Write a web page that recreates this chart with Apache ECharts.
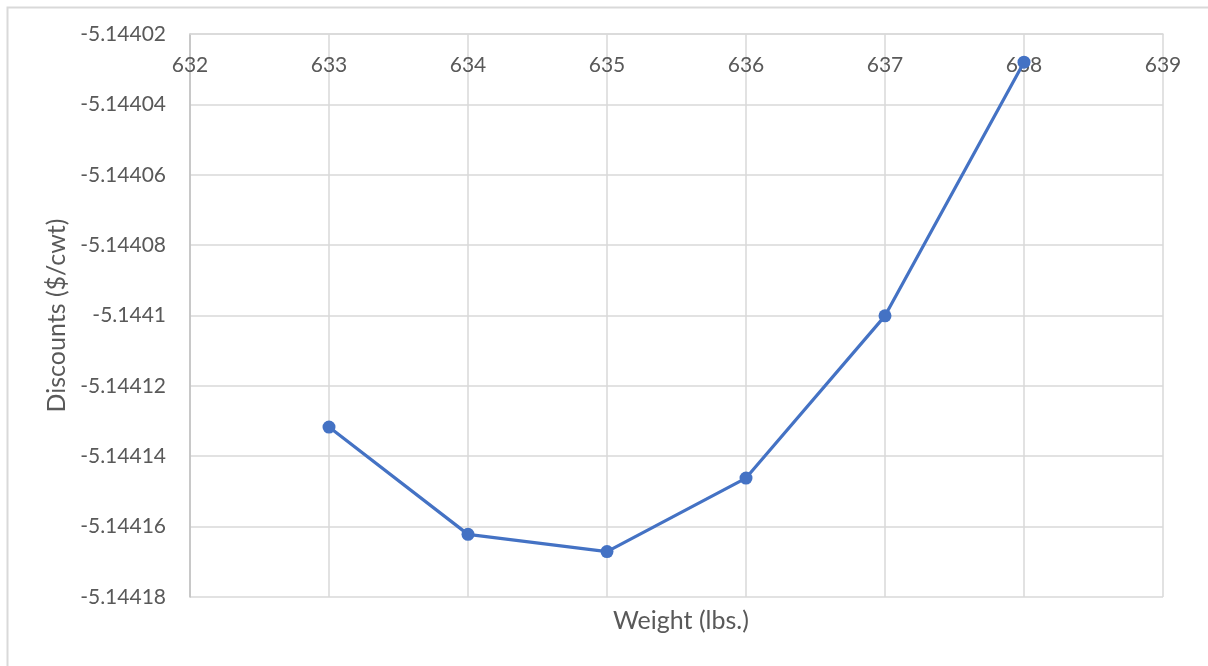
<!DOCTYPE html>
<html>
<head>
<meta charset="utf-8">
<script src="https://cdn.jsdelivr.net/npm/echarts@6/dist/echarts.min.js"></script>
<style>
  html, body { margin: 0; padding: 0; background: #ffffff; }
  #chart { width: 1208px; height: 666px; }
</style>
</head>
<body>
<div id="chart"></div>
<script>
// Weight in lbs. and the matching discount in $/cwt
const weights = [633, 634, 635, 636, 637, 638];
const discounts = [-5.1441317, -5.1441622, -5.1441671, -5.1441462, -5.1441001, -5.144028];

const xTicks = { min: 632, max: 639, step: 1 };
const yTicks = { min: -5.14418, max: -5.14402, step: 0.00002 };

const labelColor = '#595959';
const gridColor = '#d9d9d9';
const fontFamily = 'Lato, "Open Sans", sans-serif';

const chart = echarts.init(document.getElementById('chart'));
chart.setOption({
  animation: false,
  backgroundColor: '#ffffff',
  graphic: [{
    type: 'rect',
    left: 5, top: 5,
    shape: { x: 0, y: 0, width: 1215, height: 680 },
    style: { fill: 'none', stroke: '#d9d9d9', lineWidth: 2 },
    silent: true
  }],
  title: {
    text: 'Weight (lbs.)',
    left: 676, top: 603,
    textAlign: 'center',
    textStyle: { color: labelColor, fontSize: 25, fontWeight: 'normal', fontFamily: fontFamily }
  },
  grid: { left: 190, right: 45, top: 34, bottom: 69, containLabel: false },
  xAxis: {
    type: 'value',
    position: 'top',
    min: xTicks.min, max: xTicks.max, interval: xTicks.step,
    axisLine: { show: true, lineStyle: { color: gridColor, width: 1.5 } },
    axisTick: { show: false },
    axisLabel: { inside: true, margin: 21, color: labelColor, fontSize: 21, fontFamily: fontFamily },
    splitLine: { show: true, lineStyle: { color: gridColor, width: 1.5 } }
  },
  yAxis: {
    type: 'value',
    min: yTicks.min, max: yTicks.max, interval: yTicks.step,
    name: 'Discounts ($/cwt)',
    nameLocation: 'middle',
    nameGap: 119,
    nameRotate: 90,
    nameTextStyle: { color: labelColor, fontSize: 25, fontFamily: fontFamily },
    axisLine: { show: true, lineStyle: { color: '#bfbfbf', width: 1.5 } },
    axisTick: { show: false },
    axisLabel: {
      margin: 24, color: labelColor, fontSize: 21, fontFamily: fontFamily,
      formatter: v => String(parseFloat(v.toFixed(5)))
    },
    splitLine: { show: true, lineStyle: { color: gridColor, width: 1.5 } }
  },
  series: [{
    type: 'line',
    data: weights.map((w, i) => [w, discounts[i]]),
    lineStyle: { color: '#4472C4', width: 3.2 },
    itemStyle: { color: '#4472C4' },
    symbol: 'circle',
    symbolSize: 13,
    clip: false
  }]
});
</script>
</body>
</html>
